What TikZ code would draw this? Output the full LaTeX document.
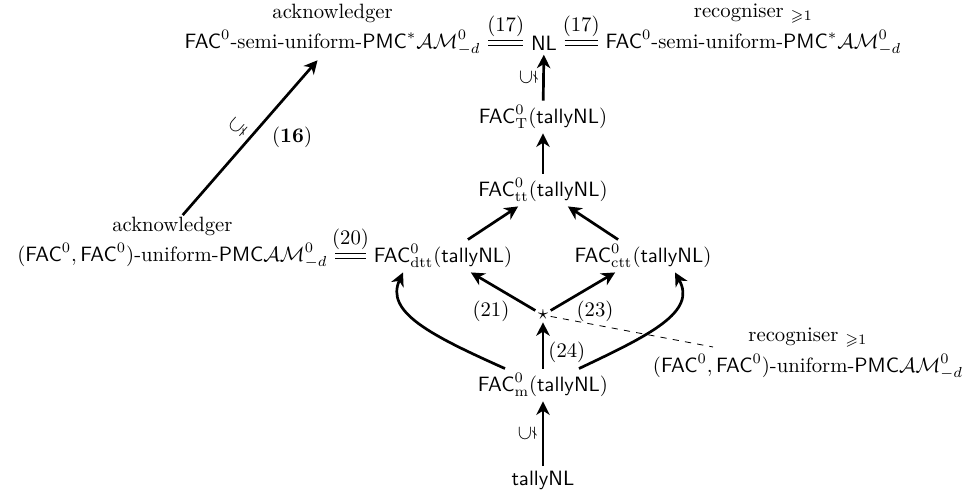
\documentclass[tikz,border=0pt]{standalone}
\usepackage{amsmath,amssymb}
\usetikzlibrary{arrows.meta,calc}
\begin{document}
\begin{tikzpicture}[x=0.483pt,y=-0.483pt,
  every node/.style={inner sep=2pt},
  arr/.style={line width=1.3pt,-{Stealth[length=6.5pt,width=6.5pt,inset=2pt]}},
  eqline/.style={double,double distance=1.6pt,line width=0.5pt,shorten <=1.5pt,shorten >=1.5pt},
  incl/.style={sloped,above,inner sep=3pt},
  toplabel/.style={anchor=south,inner sep=1pt}]
\useasboundingbox (0,0) rectangle (974,496);
% nodes
\node (nl) at (544,43) {$\mathsf{NL}$};
\node[anchor=east] (topL) at (485,43) {$\mathsf{FAC}^0$-semi-uniform-$\mathsf{PMC}^*\mathcal{AM}^0_{-d}$};
\node[anchor=west] (topR) at (601,43) {$\mathsf{FAC}^0$-semi-uniform-$\mathsf{PMC}^*\mathcal{AM}^0_{-d}$};
\node[toplabel] (ackTop) at (topL.north) {acknowledger};
\node[toplabel] (recTop) at (topR.north) {recogniser $_{\geqslant 1}$};
\node (ft) at (543,117) {$\mathsf{FAC}^0_{\mathrm{T}}(\mathsf{tallyNL})$};
\node (ftt) at (543,190) {$\mathsf{FAC}^0_{\mathrm{tt}}(\mathsf{tallyNL})$};
\node (fdtt) at (443,256) {$\mathsf{FAC}^0_{\mathrm{dtt}}(\mathsf{tallyNL})$};
\node (fctt) at (643,256) {$\mathsf{FAC}^0_{\mathrm{ctt}}(\mathsf{tallyNL})$};
\node[anchor=east] (ackL) at (332,256) {$(\mathsf{FAC}^0,\mathsf{FAC}^0)$-uniform-$\mathsf{PMC}\mathcal{AM}^0_{-d}$};
\node[toplabel] (ackLlab) at (ackL.north) {acknowledger};
\node[inner sep=1pt] (star) at (543,315) {$\star$};
\node (fm) at (543,385) {$\mathsf{FAC}^0_{\mathrm{m}}(\mathsf{tallyNL})$};
\node (tally) at (543,480) {$\mathsf{tallyNL}$};
\node (recR) at (808,367) {$(\mathsf{FAC}^0,\mathsf{FAC}^0)$-uniform-$\mathsf{PMC}\mathcal{AM}^0_{-d}$};
\node[toplabel] (recRlab) at (recR.north) {recogniser $_{\geqslant 1}$};
\coordinate (dend) at (713,347);
% connectors
\draw[eqline] (topL.east) -- (nl.west) node[midway,above=1pt] {$(17)$};
\draw[eqline] (nl.east) -- (topR.west) node[midway,above=1pt] {$(17)$};
\draw[eqline] (ackL.east) -- (fdtt.west) node[midway,above=1pt] {$(20)$};
\draw[arr] (ft) -- (nl) node[midway,incl] {$\subsetneq$};
\draw[arr] (ftt) -- (ft);
\draw[arr] (fdtt) -- (ftt);
\draw[arr] (fctt) -- (ftt);
\draw[arr] (star) -- (fdtt) node[pos=0.35,below left=-1pt] {$(21)$};
\draw[arr] (star) -- (fctt) node[pos=0.35,below right=-1pt] {$(23)$};
\draw[arr] (fm) -- (star) node[pos=0.35,right] {$(24)$};
\draw[arr] (tally) -- (fm) node[midway,incl] {$\subsetneq$};
\draw[arr] ($(fm.north)+(-38,0)$) .. controls (430,335) and (385,312) .. ($(fdtt.south)+(-40,0)$);
\draw[arr] ($(fm.north)+(36,0)$) .. controls (650,335) and (697,312) .. ($(fctt.south)+(32,0)$);
\draw[arr] (ackLlab) -- (topL) node[midway,incl] {$\subsetneq$} node[midway,right=8pt] {$\mathbf{(16)}$};
\draw[dashed,line width=0.4pt] (star) -- (dend);
\end{tikzpicture}
\end{document}
